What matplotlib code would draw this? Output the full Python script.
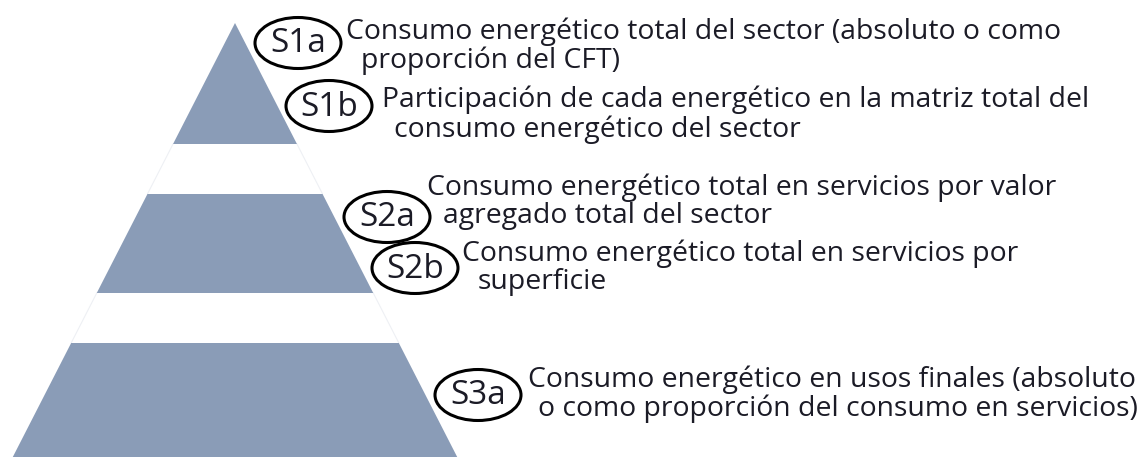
import matplotlib
matplotlib.use("Agg")
import matplotlib.pyplot as plt
from matplotlib.patches import Polygon, Ellipse

# ---- contenido ----
codes = ["S1a", "S1b", "S2a", "S2b", "S3a"]
lines_1 = [
    "Consumo energético total del sector (absoluto o como",
    "Participación de cada energético en la matriz total del",
    "Consumo energético total en servicios por valor",
    "Consumo energético total en servicios por",
    "Consumo energético en usos finales (absoluto",
]
lines_2 = [
    "proporción del CFT)",
    "consumo energético del sector",
    "agregado total del sector",
    "superficie",
    "o como proporción del consumo en servicios)",
]

# ---- layout (pixeles de la imagen) ----
W, H = 1141, 457
apex_x, apex_y = 235, 23
slope = 0.512                      # semi-ancho por pixel de altura
bands = [(23, 144), (194, 293), (343, 457)]
ell_xy = [(298, 43), (329, 106), (387, 217), (415, 268), (478, 395)]
ell_w, ell_h = 86, 51
txt_x1 = [346, 382, 427, 462, 528]
txt_x2 = [361, 394, 443, 478, 538]
base_1 = [39, 107, 195, 261, 387]
base_2 = [68, 137, 223, 289, 416]

FILL = "#8a9cb7"
INK = "#1b1b26"
FONT = ["Open Sans", "DejaVu Sans"]

fig = plt.figure(figsize=(W / 100, H / 100), dpi=100)
ax = fig.add_axes([0, 0, 1, 1])
ax.set_xlim(0, W)
ax.set_ylim(H, 0)
ax.axis("off")


def half(y):
    return (y - apex_y) * slope


# contorno tenue en los huecos
for y0, y1 in [(bands[0][1], bands[1][0]), (bands[1][1], bands[2][0])]:
    for s in (-1, 1):
        ax.plot([apex_x + s * half(y0), apex_x + s * half(y1)], [y0, y1],
                color="#eef0f4", lw=0.8, zorder=1)

for y0, y1 in bands:
    pts = [(apex_x - half(y0), y0), (apex_x + half(y0), y0),
           (apex_x + half(y1), y1), (apex_x - half(y1), y1)]
    ax.add_patch(Polygon(pts, closed=True, facecolor=FILL, edgecolor="none", zorder=2))

# ajustar tamano de letra al ancho de la primera linea
target_w = 1062 - 346
fs = 16
t = ax.text(0, 0, lines_1[0], fontsize=fs, family=FONT)
fig.canvas.draw()
w = t.get_window_extent().width
t.remove()
fs = fs * target_w / w

for i, code in enumerate(codes):
    cx, cy = ell_xy[i]
    ax.add_patch(Ellipse((cx, cy), ell_w, ell_h, facecolor="white",
                         edgecolor="black", lw=2.2, zorder=3))
    ax.text(cx, cy + 1, code, fontsize=24, family=FONT, color=INK,
            ha="center", va="center", zorder=4)
    ax.text(txt_x1[i], base_1[i], lines_1[i], fontsize=fs, family=FONT,
            color=INK, ha="left", va="baseline", zorder=4)
    ax.text(txt_x2[i], base_2[i], lines_2[i], fontsize=fs, family=FONT,
            color=INK, ha="left", va="baseline", zorder=4)

fig.savefig("out.png", dpi=100, facecolor="white")
plt.close(fig)
